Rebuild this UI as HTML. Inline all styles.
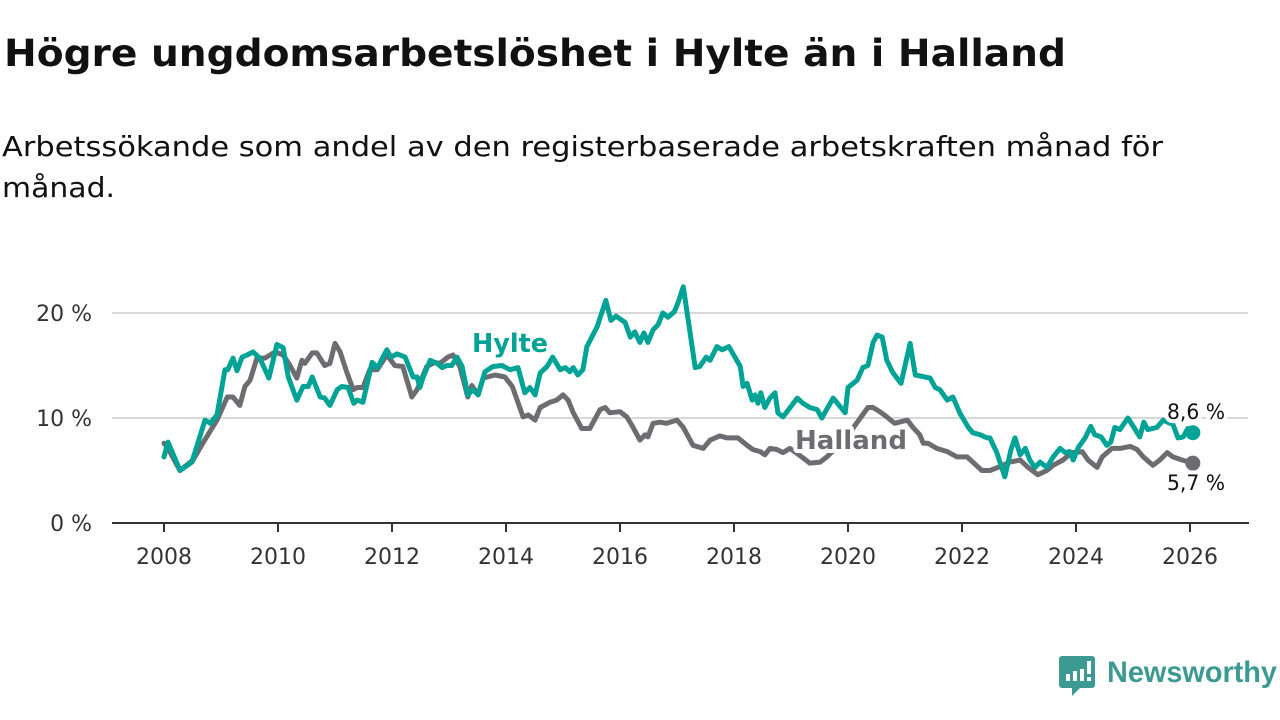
<!DOCTYPE html>
<html><head><meta charset="utf-8">
<style>
html,body{margin:0;padding:0;background:#fff;}
body{width:1280px;height:720px;overflow:hidden;position:relative;font-family:"DejaVu Sans","Liberation Sans",sans-serif;}
svg{position:absolute;left:0;top:0;}
</style></head><body>
<svg id="chart" width="1280" height="720" font-family="DejaVu Sans, Liberation Sans, sans-serif">
  <text x="4" y="66" font-size="37" font-weight="bold" fill="#111" textLength="1062" lengthAdjust="spacingAndGlyphs">Högre ungdomsarbetslöshet i Hylte än i Halland</text>
  <text x="2" y="156" font-size="28" fill="#111" textLength="1161" lengthAdjust="spacingAndGlyphs">Arbetssökande som andel av den registerbaserade arbetskraften månad för</text>
  <text x="2" y="197" font-size="28" fill="#111" textLength="113" lengthAdjust="spacingAndGlyphs">månad.</text>
  <g id="grid"></g>
  <g id="yaxis"></g>
  <g id="xaxis"></g>
  <g id="series"></g>
  <g id="labels"></g>
  <g>
    <path d="M1062 656 h30 a3 3 0 0 1 3 3 v26 a3 3 0 0 1 -3 3 h-12 l-8 8 v-8 h-10 a3 3 0 0 1 -3 -3 v-26 a3 3 0 0 1 3 -3z" fill="#3d9a92"/>
    <rect x="1066" y="674" width="4" height="7" fill="#fff"/>
    <rect x="1073" y="671" width="4" height="10" fill="#fff"/>
    <rect x="1080" y="669" width="4" height="12" fill="#fff"/>
    <rect x="1087" y="661" width="4" height="13" fill="#fff"/>
    <rect x="1087" y="677" width="4" height="4" fill="#fff"/>
    <text x="1107" y="682" font-size="30" font-weight="bold" fill="#3d9a92" textLength="170" lengthAdjust="spacingAndGlyphs" font-family="Liberation Sans, sans-serif">Newsworthy</text>
  </g>
</svg>
<script>
const yTicks = [0, 10, 20];
const yTickLabels = ["0 %", "10 %", "20 %"];
const xTicks = [2008, 2010, 2012, 2014, 2016, 2018, 2020, 2022, 2024, 2026];
const hylteDates = [2008.0,2008.07,2008.28,2008.49,2008.72,2008.81,2008.93,2009.07,2009.12,2009.21,2009.28,2009.37,2009.46,2009.56,2009.68,2009.84,2009.98,2010.09,2010.18,2010.33,2010.44,2010.53,2010.6,2010.74,2010.82,2010.91,2011.04,2011.12,2011.23,2011.33,2011.39,2011.49,2011.65,2011.75,2011.84,2011.91,2011.98,2012.09,2012.23,2012.37,2012.44,2012.49,2012.54,2012.67,2012.79,2012.88,2012.96,2013.05,2013.14,2013.23,2013.33,2013.42,2013.51,2013.63,2013.77,2013.93,2014.07,2014.21,2014.33,2014.42,2014.51,2014.6,2014.72,2014.82,2014.95,2015.04,2015.12,2015.18,2015.26,2015.35,2015.42,2015.6,2015.75,2015.84,2015.93,2016.09,2016.18,2016.26,2016.35,2016.42,2016.49,2016.58,2016.67,2016.75,2016.84,2016.95,2017.02,2017.11,2017.32,2017.4,2017.51,2017.58,2017.7,2017.79,2017.91,2018.11,2018.16,2018.23,2018.32,2018.37,2018.42,2018.47,2018.54,2018.63,2018.72,2018.77,2018.86,2019.11,2019.21,2019.33,2019.46,2019.54,2019.74,2019.95,2020.0,2020.16,2020.26,2020.35,2020.44,2020.51,2020.6,2020.68,2020.79,2020.93,2021.09,2021.18,2021.44,2021.53,2021.61,2021.74,2021.84,2021.96,2022.11,2022.19,2022.32,2022.44,2022.49,2022.61,2022.75,2022.86,2022.93,2023.02,2023.11,2023.19,2023.28,2023.37,2023.49,2023.6,2023.72,2023.81,2023.89,2023.95,2024.04,2024.16,2024.26,2024.33,2024.44,2024.54,2024.61,2024.68,2024.77,2024.91,2025.04,2025.12,2025.19,2025.26,2025.42,2025.53,2025.65,2025.7,2025.79,2025.88,2025.96,2026.05];
const hylteValues = [6.3,7.7,5.0,5.8,9.8,9.5,10.3,14.6,14.6,15.7,14.5,15.8,16.0,16.3,15.7,13.8,17.0,16.7,13.9,11.7,13.0,13.0,13.9,12.0,11.9,11.2,12.7,13.0,12.9,11.4,11.7,11.5,15.3,14.8,15.8,16.5,15.8,16.1,15.8,13.9,13.9,12.9,13.8,15.5,15.2,14.8,15.0,15.0,15.8,14.9,12.2,12.7,12.2,14.4,14.9,15.0,14.6,14.8,12.4,12.9,12.2,14.3,14.9,15.8,14.6,14.8,14.4,14.8,14.1,14.6,16.8,18.7,21.2,19.3,19.7,19.1,17.7,18.2,17.2,18.1,17.2,18.4,18.9,20.0,19.6,20.1,21.0,22.5,14.8,14.9,15.8,15.5,16.8,16.5,16.8,14.9,13.0,13.3,11.7,12.2,11.4,12.4,11.0,11.9,12.4,10.5,10.1,11.9,11.4,11.0,10.8,10.0,11.9,10.5,12.9,13.6,14.8,15.0,17.2,17.9,17.7,15.5,14.3,13.3,17.1,14.1,13.8,12.9,12.7,11.7,12.0,10.5,9.1,8.6,8.4,8.1,8.1,6.7,4.4,7.0,8.1,6.5,7.1,6.0,5.3,5.8,5.3,6.3,7.1,6.7,6.8,6.0,7.2,8.1,9.2,8.4,8.2,7.4,7.7,9.1,8.9,10.0,8.9,8.2,9.6,8.9,9.1,9.8,9.5,9.4,8.1,8.2,9.0,8.6];
const hallandDates = [2008.0,2008.07,2008.28,2008.51,2008.68,2008.93,2009.11,2009.21,2009.33,2009.42,2009.51,2009.63,2009.77,2009.95,2010.09,2010.21,2010.33,2010.42,2010.47,2010.6,2010.68,2010.82,2010.91,2011.0,2011.09,2011.21,2011.32,2011.39,2011.49,2011.61,2011.74,2011.91,2012.05,2012.19,2012.35,2012.44,2012.61,2012.75,2012.84,2012.98,2013.07,2013.19,2013.33,2013.4,2013.51,2013.6,2013.81,2013.98,2014.11,2014.3,2014.39,2014.51,2014.6,2014.77,2014.89,2015.0,2015.09,2015.18,2015.33,2015.47,2015.65,2015.74,2015.82,2016.0,2016.12,2016.23,2016.35,2016.44,2016.49,2016.58,2016.7,2016.82,2017.0,2017.11,2017.28,2017.46,2017.58,2017.75,2017.88,2018.07,2018.23,2018.33,2018.46,2018.54,2018.63,2018.75,2018.86,2018.98,2019.21,2019.33,2019.51,2019.63,2019.95,2020.35,2020.44,2020.56,2020.68,2020.82,2021.04,2021.14,2021.26,2021.32,2021.4,2021.56,2021.74,2021.91,2022.09,2022.19,2022.35,2022.49,2022.63,2022.84,2023.02,2023.16,2023.33,2023.49,2023.6,2023.77,2023.93,2024.11,2024.21,2024.37,2024.46,2024.63,2024.77,2024.95,2025.07,2025.18,2025.35,2025.47,2025.6,2025.7,2025.86,2026.05];
const hallandValues = [7.6,7.1,5.0,6.0,7.6,9.8,12.0,12.0,11.2,13.0,13.6,15.7,15.7,16.3,16.0,15.0,13.8,15.5,15.2,16.2,16.2,15.0,15.2,17.1,16.3,14.3,12.7,12.9,12.9,14.6,14.6,16.0,15.0,14.9,12.0,12.7,14.9,15.3,15.2,15.8,16.0,14.9,12.0,13.1,12.2,13.8,14.1,13.9,13.0,10.1,10.3,9.8,11.0,11.5,11.7,12.2,11.7,10.5,9.0,9.0,10.8,11.0,10.5,10.6,10.1,9.1,7.9,8.4,8.2,9.5,9.6,9.5,9.8,9.1,7.4,7.1,7.9,8.3,8.1,8.1,7.4,7.0,6.8,6.5,7.1,7.0,6.7,7.1,6.2,5.7,5.8,6.3,8.0,11.0,11.0,10.6,10.1,9.5,9.8,9.1,8.4,7.6,7.6,7.1,6.8,6.3,6.3,5.8,5.0,5.0,5.3,5.8,6.0,5.3,4.6,5.0,5.5,6.0,6.7,6.8,6.0,5.3,6.3,7.1,7.1,7.3,7.0,6.3,5.5,6.0,6.7,6.3,6.0,5.7];

const NS = "http://www.w3.org/2000/svg";
const X0 = 164, PX_PER_YEAR = 57, Y0 = 523, PX_PER_PCT = 10.5;
function xScale(year){ return X0 + (year - 2008) * PX_PER_YEAR; }
function yScale(v){ return Y0 - v * PX_PER_PCT; }
function mk(tag, attrs, parent){ const e = document.createElementNS(NS, tag); for (const k in attrs) e.setAttribute(k, attrs[k]); parent.appendChild(e); return e; }

const grid = document.getElementById('grid');
const yaxis = document.getElementById('yaxis');
const xaxis = document.getElementById('xaxis');
yTicks.forEach((t, i) => {
  if (t > 0) {
    const gl = mk('line', {x1:112, x2:1248, y1:yScale(t), y2:yScale(t), stroke:'#d9d9d9', 'stroke-width':2}, grid);
    
    
  }
  const tl = mk('text', {x:92, y:yScale(t)+8, 'text-anchor':'end', 'font-size':22, fill:'#333'}, yaxis);
  tl.textContent = yTickLabels[i];
  
  
});
const axl = mk('line', {x1:112, x2:1249, y1:Y0, y2:Y0, stroke:'#333', 'stroke-width':2}, xaxis);


xTicks.forEach(t => {
  const tk = mk('line', {x1:xScale(t), x2:xScale(t), y1:Y0, y2:Y0+9, stroke:'#333', 'stroke-width':2}, xaxis);
  
  
  const tl = mk('text', {x:xScale(t), y:Y0+41, 'text-anchor':'middle', 'font-size':22, fill:'#333'}, xaxis);
  tl.textContent = String(t);
  
  
});

const series = document.getElementById('series');
function drawLine(dates, vals, color, name){
  const d = dates.map((t, i) => (i ? 'L' : 'M') + xScale(t).toFixed(1) + ' ' + yScale(vals[i]).toFixed(1)).join(' ');
  const p = mk('path', {d:d, fill:'none', stroke:color, 'stroke-width':5, 'stroke-linejoin':'round', 'stroke-linecap':'round'}, series);
  
  
  const n = dates.length - 1;
  const c = mk('circle', {cx:xScale(dates[n]), cy:yScale(vals[n]), r:7.5, fill:color}, series);
  
  
}
drawLine(hallandDates, hallandValues, '#6d6c71', 'halland');
drawLine(hylteDates, hylteValues, '#00a396', 'hylte');

const labels = document.getElementById('labels');
function lbl(text, x, y, color, size, weight, name, len){
  const t = mk('text', {x:x, y:y, fill:color, 'font-size':size, 'font-weight':weight, stroke:'#fff', 'stroke-width':8, 'paint-order':'stroke', 'stroke-linejoin':'round'}, labels);
  if (len) { t.setAttribute('textLength', len); t.setAttribute('lengthAdjust', 'spacingAndGlyphs'); }
  t.textContent = text;
  
  
}
lbl('Hylte', 472, 352, '#00a396', 26, 'bold', 'hylte-label', 76);
lbl('Halland', 795, 449, '#6d6c71', 26, 'bold', 'halland-label', 112);
const hl = hylteValues[hylteValues.length-1], hd = hallandValues[hallandValues.length-1];
lbl(hl.toFixed(1).replace('.', ',') + ' %', 1167, 419, '#111', 21, 'normal', 'hylte-end-value', 58);
lbl(hd.toFixed(1).replace('.', ',') + ' %', 1167, 490, '#111', 21, 'normal', 'halland-end-value', 58);
</script>
</body></html>
